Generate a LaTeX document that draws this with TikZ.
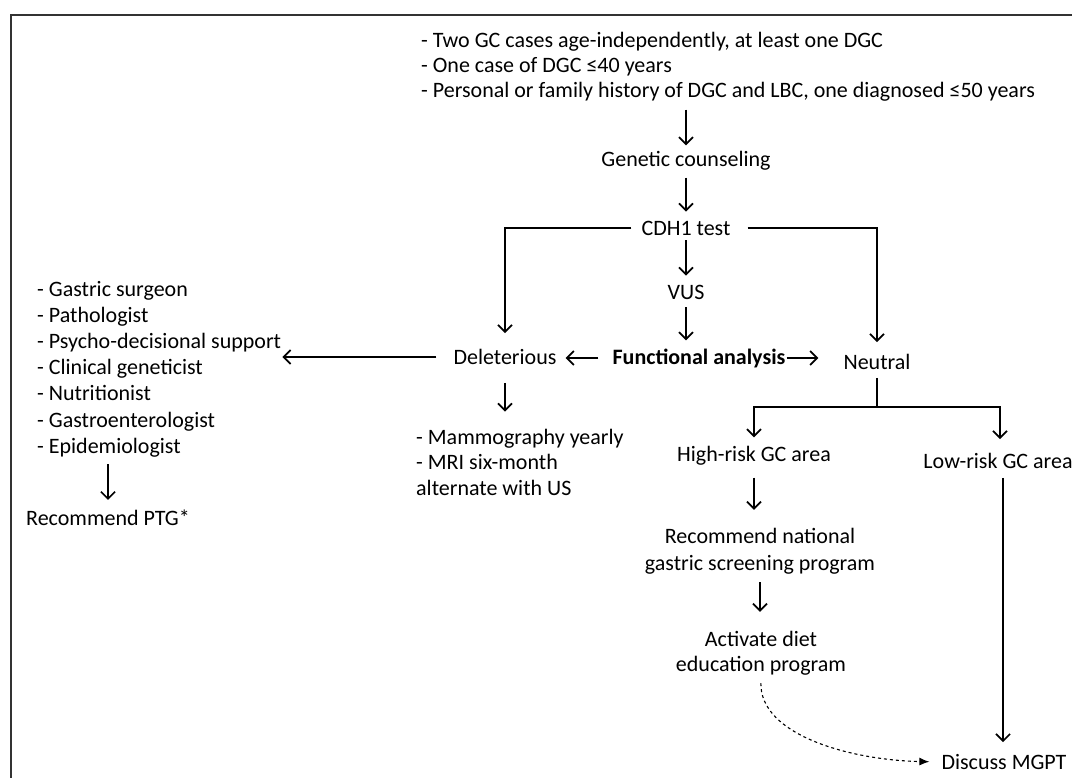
\documentclass[tikz,border=0pt]{standalone}
\usepackage{fontspec}
\setmainfont{Carlito}
\usetikzlibrary{arrows.meta}
\tikzset{
  txt/.style={inner sep=1pt, font=\fontsize{22}{25}\selectfont},
  arr/.style={-{Straight Barb[length=7pt,width=14pt,line width=1.7pt]}, line width=1.6pt},
  ln/.style={line width=1.6pt},
  dsh/.style={dashed, line width=1.1pt, -{Latex[length=10pt,width=8pt]}},
}
\begin{document}
\begin{tikzpicture}[x=1pt,y=-1pt]
\useasboundingbox (0,0) rectangle (1072,778);
\draw[line width=2pt, black!80] (11,778) -- (11,15) -- (1072,15);

\node[txt, anchor=west, align=left] (crit) at (420,67) {- Two GC cases age-independently, at least one DGC\\- One case of DGC ≤40 years\\- Personal or family history of DGC and LBC, one diagnosed ≤50 years};
\node[txt] (gc) at (686,161) {Genetic counseling};
\node[txt] (cdh) at (686,228) {CDH1 test};
\node[txt] (vus) at (686,292) {VUS};
\node[txt, font=\fontsize{22}{25}\selectfont\bfseries] (fa) at (699,358) {Functional analysis};
\node[txt] (del) at (505,357) {Deleterious};
\node[txt] (neu) at (877,362) {Neutral};
\node[txt, anchor=west, align=left, font=\fontsize{22}{26.2}\selectfont] (team) at (36,369) {- Gastric surgeon\\- Pathologist\\- Psycho-decisional support\\- Clinical geneticist\\- Nutritionist\\- Gastroenterologist\\- Epidemiologist};
\node[txt, anchor=west] (ptg) at (25,518) {Recommend PTG*};
\node[txt, anchor=west, align=left, font=\fontsize{22}{25.5}\selectfont] (mam) at (415,462) {- Mammography yearly\\- MRI six-month\\alternate with US};
\node[txt] (hr) at (754,456) {High-risk GC area};
\node[txt] (lr) at (998,461) {Low-risk GC area};
\node[txt, align=center, font=\fontsize{22}{27}\selectfont] (rec) at (760,551) {Recommend national\\gastric screening program};
\node[txt, align=center] (act) at (761,653) {Activate diet\\education program};
\node[txt] (mgpt) at (1004,762) {Discuss MGPT};
\coordinate (nb) at (877,407);

\draw[arr, shorten <=7pt, shorten >=5pt] (gc |- crit.south) -- (gc.north);
\draw[arr, shorten <=6pt, shorten >=8pt] (gc.south) -- (cdh.north);
\draw[arr, shorten <=9pt, shorten >=15pt] (cdh.west) -| (del.north);
\draw[arr, shorten <=16pt, shorten >=11pt] (cdh.east) -| (neu.north);
\draw[arr, shorten <=4pt, shorten >=8pt] (cdh.south) -- (vus.north);
\draw[arr, shorten <=7pt, shorten >=7pt] (vus.south) -- (vus.south |- fa.north);
\draw[arr, shorten <=13pt, shorten >=8pt] (fa.west) -- (fa.west -| del.east);
\draw[arr, shorten >=24pt] (fa.east) -- (fa.east -| neu.west);
\draw[arr, shorten <=16pt] (del.west) -- (team.east |- del.west);
\draw[arr, shorten <=6pt, shorten >=9pt] ([xshift=72pt]team.south west) -- ([xshift=72pt]team.south west |- ptg.north);
\draw[arr, shorten <=17pt, shorten >=16pt] (del.south) -- (del.south |- mam.north);
\draw[ln, shorten <=7pt] (neu.south) -- (nb);
\draw[arr, shorten >=8pt] (nb) -| (hr.north);
\draw[arr, shorten >=13pt] (nb) -| ([xshift=2pt]lr.north);
\draw[arr, shorten <=11pt, shorten >=17pt] (hr.south) -- (hr.south |- rec.north);
\draw[arr, shorten <=7pt, shorten >=18pt] (rec.south) -- (rec.south |- act.north);
\draw[arr, shorten <=8pt, shorten >=11pt] ([xshift=5pt]lr.south) -- ([xshift=5pt]lr.south |- mgpt.north);
\draw[dsh, shorten <=7pt, shorten >=11pt] (act.south) .. controls (760,735) and (850,760) .. (mgpt.west);
\end{tikzpicture}
\end{document}
